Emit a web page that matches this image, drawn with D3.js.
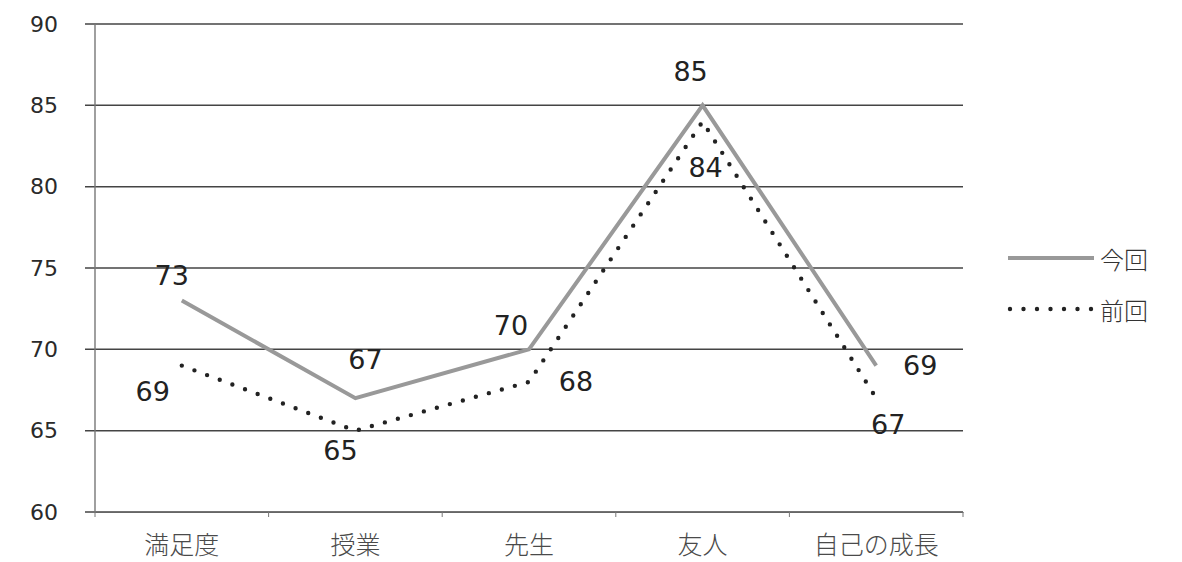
<!DOCTYPE html>
<html>
<head>
<meta charset="utf-8">
<script src="https://cdn.jsdelivr.net/npm/d3@7"></script>
<style>
  html, body { margin: 0; padding: 0; background: #fff; }
  svg { display: block; }
</style>
</head>
<body>
<svg id="chart" width="1182" height="562"></svg>
<script>
// ---- data ----
const categories = ["満足度", "授業", "先生", "友人", "自己の成長"];
const seriesNames = ["今回", "前回"];
const konkai = [73, 67, 70, 85, 69];
const zenkai = [69, 65, 68, 84, 67];
const yTicks = [60, 65, 70, 75, 80, 85, 90];

// ---- layout / style (not data) ----
const plotLeft = 95, plotRight = 963, plotTop = 24, plotBottom = 512;
// label offsets relative to each point [dx, dy]
const konkaiLabelOffsets = [[-10, -25], [10, -39], [-18, -24], [-12, -34], [44, 0]];
const zenkaiLabelOffsets = [[-29, 26], [-15, 20], [47, 0], [3, 46], [12, 26]];

const svg = d3.select("#chart");
const x = d3.scaleBand().domain(categories).range([plotLeft, plotRight]);
const y = d3.scaleLinear().domain([60, 90]).range([plotBottom, plotTop]);
const cx = c => x(c) + x.bandwidth() / 2;

// gridlines
svg.append("g")
  .selectAll("line")
  .data(yTicks)
  .join("line")
  .attr("x1", plotLeft - 10).attr("x2", plotRight)
  .attr("y1", d => y(d)).attr("y2", d => y(d))
  .attr("stroke", "#444")
  .attr("stroke-width", 1.5);

// y axis line
svg.append("line")
  .attr("x1", plotLeft).attr("x2", plotLeft)
  .attr("y1", plotTop).attr("y2", plotBottom)
  .attr("stroke", "#777").attr("stroke-width", 1.4);

// y tick labels
const yAxis = svg.append("g")
  .attr("transform", `translate(${plotLeft},0)`)
  .call(d3.axisLeft(y).tickValues(yTicks).tickSize(0).tickPadding(37));
yAxis.select(".domain").remove();
yAxis.selectAll("text")
  .attr("font-family", "'DejaVu Sans', Verdana, sans-serif")
  .attr("font-size", 22)
  .attr("fill", "#2a2a2a");

// x axis
const xAxis = svg.append("g")
  .attr("transform", `translate(0,${plotBottom})`)
  .call(d3.axisBottom(x).tickSize(0).tickPadding(24));
xAxis.select(".domain").attr("stroke", "#666").attr("stroke-width", 1.2);
xAxis.selectAll("text")
  .attr("font-family", "'Noto Sans CJK JP', sans-serif")
  .attr("font-weight", 300)
  .attr("font-size", 25)
  .attr("fill", "#4a4a4a");
// small ticks at category boundaries
const boundaries = categories.map(c => x(c)).concat([plotRight]);
svg.append("g")
  .selectAll("line")
  .data(boundaries)
  .join("line")
  .attr("x1", d => d).attr("x2", d => d)
  .attr("y1", plotBottom).attr("y2", plotBottom + 5)
  .attr("stroke", "#777").attr("stroke-width", 1);

// lines
const line = d3.line().x(d => cx(d.c)).y(d => y(d.v));
const konkaiData = categories.map((c, i) => ({ c, v: konkai[i] }));
const zenkaiData = categories.map((c, i) => ({ c, v: zenkai[i] }));

svg.append("path")
  .datum(zenkaiData)
  .attr("d", line)
  .attr("fill", "none")
  .attr("stroke", "#222")
  .attr("stroke-width", 4.4)
  .attr("stroke-linecap", "round")
  .attr("stroke-dasharray", "0,13.5");

svg.append("path")
  .datum(konkaiData)
  .attr("d", line)
  .attr("fill", "none")
  .attr("stroke", "#999")
  .attr("stroke-width", 4)
  .attr("stroke-linejoin", "miter");

// data labels
const labelFont = "'DejaVu Sans', Verdana, sans-serif";
svg.append("g")
  .selectAll("text")
  .data(konkaiData)
  .join("text")
  .attr("x", (d, i) => cx(d.c) + konkaiLabelOffsets[i][0])
  .attr("y", (d, i) => y(d.v) + konkaiLabelOffsets[i][1])
  .attr("text-anchor", "middle")
  .attr("dominant-baseline", "central")
  .attr("font-family", labelFont)
  .attr("font-size", 27)
  .attr("fill", "#222")
  .text(d => d.v);

svg.append("g")
  .selectAll("text")
  .data(zenkaiData)
  .join("text")
  .attr("x", (d, i) => cx(d.c) + zenkaiLabelOffsets[i][0])
  .attr("y", (d, i) => y(d.v) + zenkaiLabelOffsets[i][1])
  .attr("text-anchor", "middle")
  .attr("dominant-baseline", "central")
  .attr("font-family", labelFont)
  .attr("font-size", 27)
  .attr("fill", "#222")
  .text(d => d.v);

// legend
const legend = svg.append("g").attr("transform", "translate(1008,258)");
legend.append("line")
  .attr("x1", 0).attr("x2", 86).attr("y1", 0).attr("y2", 0)
  .attr("stroke", "#999").attr("stroke-width", 4);
legend.append("text")
  .attr("x", 92).attr("y", 0)
  .attr("dominant-baseline", "central")
  .attr("font-family", "'Noto Sans CJK JP', sans-serif")
  .attr("font-weight", 300)
  .attr("font-size", 24)
  .attr("fill", "#333")
  .text(seriesNames[0]);
legend.append("line")
  .attr("x1", 2).attr("x2", 86).attr("y1", 51).attr("y2", 51)
  .attr("stroke", "#222").attr("stroke-width", 4.4)
  .attr("stroke-linecap", "round")
  .attr("stroke-dasharray", "0,13.5");
legend.append("text")
  .attr("x", 92).attr("y", 51)
  .attr("dominant-baseline", "central")
  .attr("font-family", "'Noto Sans CJK JP', sans-serif")
  .attr("font-weight", 300)
  .attr("font-size", 24)
  .attr("fill", "#333")
  .text(seriesNames[1]);
</script>
</body>
</html>
